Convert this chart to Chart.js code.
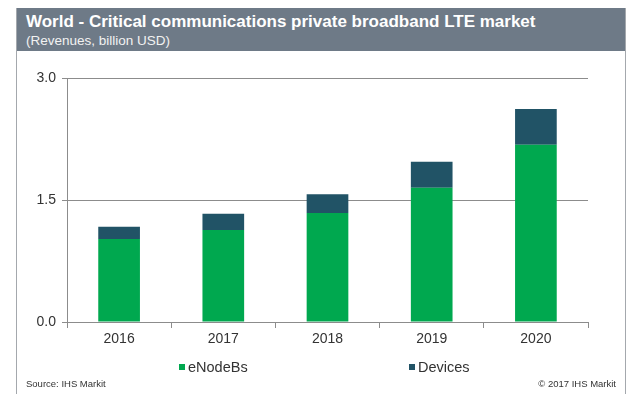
<!DOCTYPE html>
<html>
<head>
<meta charset="utf-8">
<script src="https://cdn.jsdelivr.net/npm/chart.js@4.4.1/dist/chart.umd.min.js"></script>
<style>
  html, body { margin:0; padding:0; background:#fff; }
  body { width:627px; height:394px; position:relative; overflow:hidden; font-family:"Liberation Sans", Arial, sans-serif; }
  #box { position:absolute; left:16px; top:8px; width:608px; height:400px; border:1px solid #a4a8ad; border-bottom:none; }
  #head { position:absolute; left:17px; top:8px; width:608px; height:43px; background:#6e7a87; color:#fff; }
  #title { position:absolute; left:9px; top:4px; font-weight:bold; font-size:17px; white-space:nowrap; }
  #sub { position:absolute; left:9px; top:25px; font-size:13.5px; white-space:nowrap; color:#f2f2f2; }
  #wrap { position:absolute; left:17px; top:52px; width:606px; height:342px; }
  .leg { position:absolute; top:359px; font-size:14.5px; color:#333; white-space:nowrap; }
  .leg i { display:inline-block; width:6px; height:6px; margin-right:3px; vertical-align:2px; }
  .foot { position:absolute; top:378px; font-size:9.5px; color:#333; white-space:nowrap; }
</style>
</head>
<body>
<div id="box"></div>
<div id="head">
  <div id="title">World - Critical communications private broadband LTE market</div>
  <div id="sub">(Revenues, billion USD)</div>
</div>
<div id="wrap"><canvas id="chart" width="606" height="342"></canvas></div>
<div class="leg" style="left:179px"><i style="background:#00a84f"></i>eNodeBs</div>
<div class="leg" style="left:409px"><i style="background:#215366"></i>Devices</div>
<div class="foot" style="left:26px">Source: IHS Markit</div>
<div class="foot" style="right:11px">© 2017 IHS Markit</div>
<script>
// Datos del gráfico (miles de millones USD)
const years = ['2016', '2017', '2018', '2019', '2020'];
const enodebs = [1.02, 1.13, 1.34, 1.65, 2.18];
const devices = [0.15, 0.20, 0.23, 0.32, 0.44];
const yTicks = [0, 1.5, 3.0];

const axisGray = '#8c8c8c';

new Chart(document.getElementById('chart').getContext('2d'), {
  type: 'bar',
  data: {
    labels: years,
    datasets: [
      { label: 'eNodeBs', data: enodebs, backgroundColor: '#00a84f', barPercentage: 0.4, categoryPercentage: 1 },
      { label: 'Devices', data: devices, backgroundColor: '#215366', barPercentage: 0.4, categoryPercentage: 1 }
    ]
  },
  options: {
    responsive: false,
    animation: false,
    layout: { padding: { left: 0, right: 35, top: 26, bottom: 42 } },
    plugins: { legend: { display: false }, tooltip: { enabled: false } },
    scales: {
      x: {
        stacked: true,
        afterFit: s => { s.height = 30; },
        border: { color: axisGray, width: 1 },
        grid: { offset: true, drawOnChartArea: false, drawTicks: true, tickLength: 6, color: axisGray },
        ticks: { color: '#333', font: { family: 'Liberation Sans', size: 14 }, padding: 3 }
      },
      y: {
        stacked: true,
        min: 0, max: 3,
        afterFit: s => { s.width = 50; },
        afterBuildTicks: s => { s.ticks = yTicks.map(v => ({ value: v })); },
        border: { color: axisGray, width: 1 },
        grid: { color: axisGray, tickLength: 5 },
        ticks: { color: '#333', font: { family: 'Liberation Sans', size: 14 }, padding: 6, callback: v => Number(v).toFixed(1) }
      }
    }
  }
});
</script>
</body>
</html>
